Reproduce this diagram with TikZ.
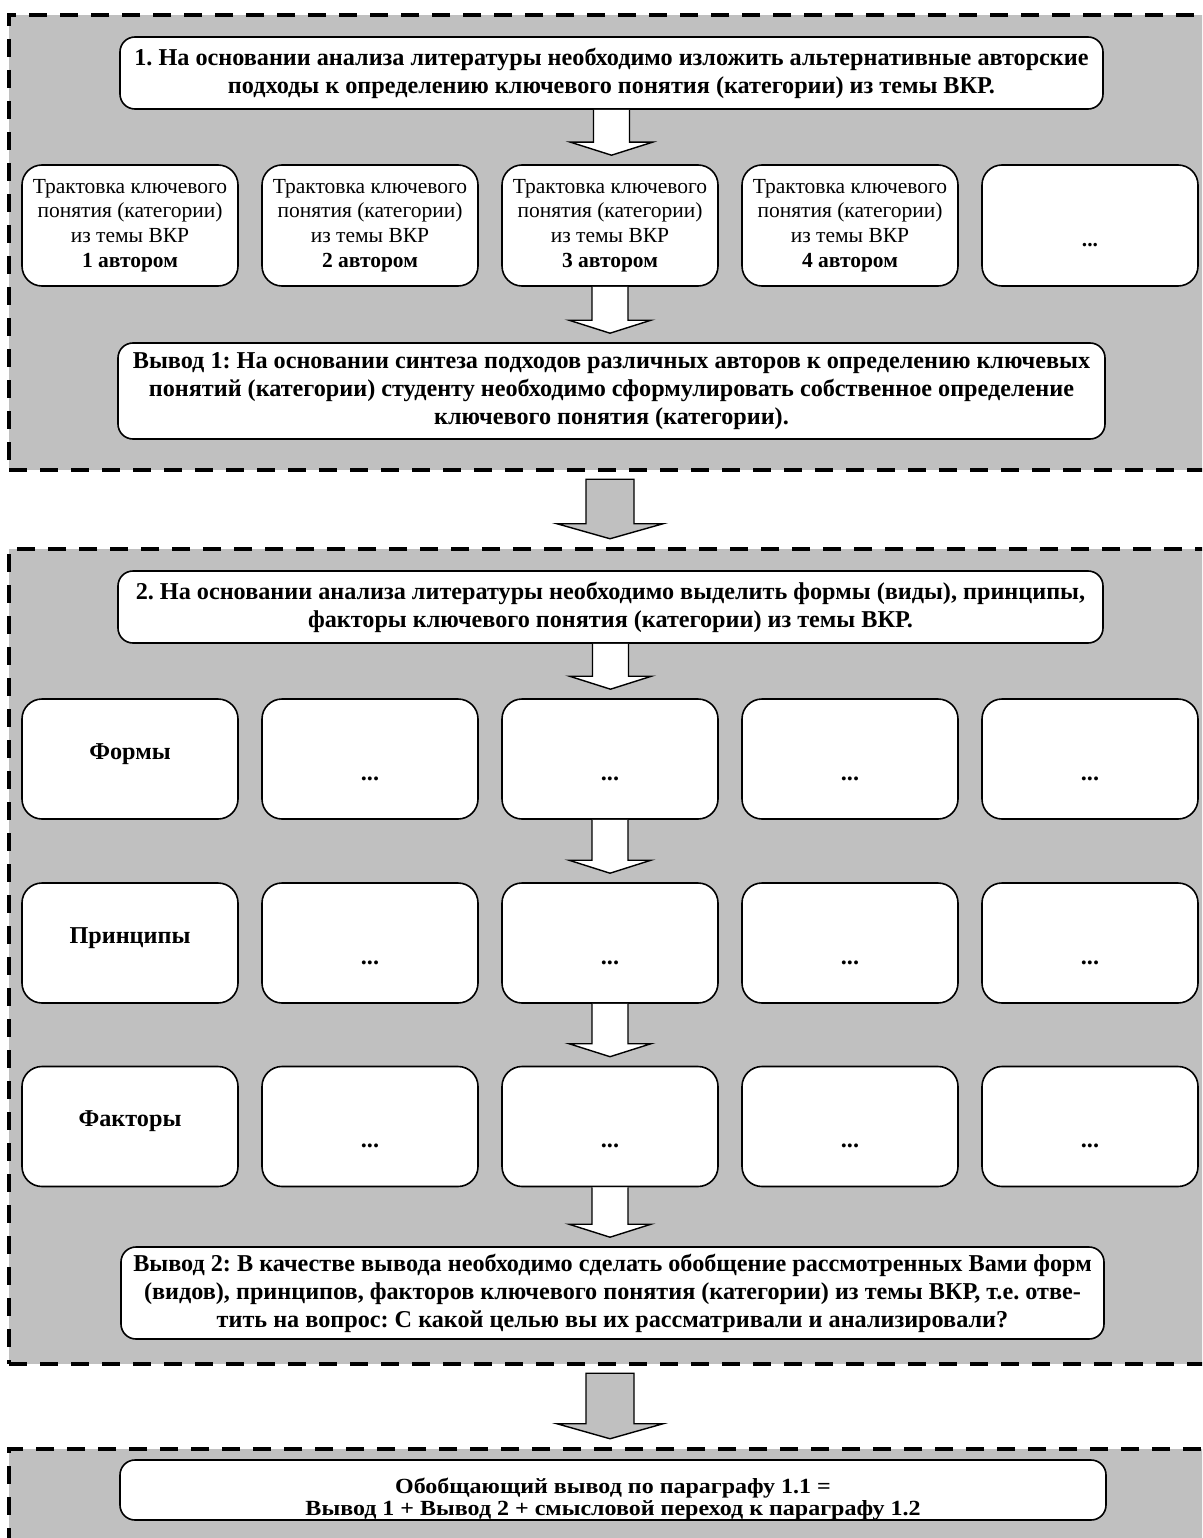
\documentclass[tikz,border=0pt]{standalone}
\usepackage{fontspec}
\setmainfont{Liberation Serif}
\usetikzlibrary{calc}
\frenchspacing
\definecolor{panelgray}{HTML}{C0C0C0}
\tikzset{
  panel/.style={draw, fill=panelgray, line width=4.5pt, dash pattern=on 18pt off 13pt, inner sep=0pt, minimum width=1202pt},
  wbox/.style={draw, fill=white, line width=1.6pt, inner sep=0pt, align=center},
  headbox/.style={wbox, rounded corners=15pt, font=\fontsize{24.2}{28}\selectfont\bfseries},
  authbox/.style={wbox, rounded corners=20pt, minimum width=216pt, minimum height=121pt, font=\fontsize{21.5}{24.7}\selectfont},
  rowbox/.style={wbox, rounded corners=20pt, minimum width=216pt, minimum height=120pt, font=\fontsize{24.2}{28}\selectfont\bfseries},
  warrow/.style={draw, fill=white, line width=1.4pt, line join=miter},
  garrow/.style={draw, fill=panelgray, line width=1.4pt, line join=miter},
}
\newcommand\wArrow[2]{\path[warrow] let \p1=(#1.south), \p2=(#2.north) in
  (\x1-18pt,\y1) -- (\x1-18pt,\y2+22pt) -- (\x1-41pt,\y2+22pt) -- (\x1,\y2+9pt)
  -- (\x1+41pt,\y2+22pt) -- (\x1+18pt,\y2+22pt) -- (\x1+18pt,\y1);}
\newcommand\gArrow[2]{\path[garrow] let \p1=(#1.south), \p2=(#2.north) in
  (\x1-24pt,\y1-7pt) -- (\x1-24pt,\y2+23pt) -- (\x1-53pt,\y2+23pt) -- (\x1,\y2+8pt)
  -- (\x1+53pt,\y2+23pt) -- (\x1+24pt,\y2+23pt) -- (\x1+24pt,\y1-7pt) -- cycle;}
\newcommand\dotsraise[1]{\raisebox{-21pt}[0pt][0pt]{#1}}
\newcommand\rowlabel[1]{\raisebox{0pt}[0pt][0pt]{#1}}
\begin{document}
\begin{tikzpicture}[x=1pt,y=-1pt]
\useasboundingbox (0,0) rectangle (1202,1538);
\clip (0,0) rectangle (1202,1538);
% panels
\node[panel, minimum height=455pt] (p1) at (610,242.5) {};
\node[panel, minimum height=815pt] (p2) at (610,956.5) {};
\node[panel, minimum height=121pt] (p3) at (610,1509.5) {};
% panel 1
\node[headbox, minimum width=983pt, minimum height=72pt] (h1) at (611.5,73)
  {1. На основании анализа литературы необходимо изложить альтернативные авторские\\
   подходы к определению ключевого понятия (категории) из темы ВКР.};
\node[authbox] (a1) at (130,225.5) {Трактовка ключевого\\понятия (категории)\\из темы ВКР\\\textbf{1 автором}};
\node[authbox] (a2) at (370,225.5) {Трактовка ключевого\\понятия (категории)\\из темы ВКР\\\textbf{2 автором}};
\node[authbox] (a3) at (610,225.5) {Трактовка ключевого\\понятия (категории)\\из темы ВКР\\\textbf{3 автором}};
\node[authbox] (a4) at (850,225.5) {Трактовка ключевого\\понятия (категории)\\из темы ВКР\\\textbf{4 автором}};
\node[authbox] (a5) at (1090,225.5) {\dotsraise{\textbf{...}}};
\node[headbox, minimum width=987pt, minimum height=96pt] (v1) at (611.5,391)
  {Вывод 1: На основании синтеза подходов различных авторов к определению ключевых\\
   понятий (категории) студенту необходимо сформулировать собственное определение\\
   ключевого понятия (категории).};
\wArrow{h1}{a3}
\wArrow{a3}{v1}
% panel 2
\node[headbox, minimum width=985pt, minimum height=72pt] (h2) at (610.5,607)
  {2. На основании анализа литературы необходимо выделить формы (виды), принципы,\\
   факторы ключевого понятия (категории) из темы ВКР.};
\node[rowbox] (f1) at (130,759) {\rowlabel{Формы}};
\node[rowbox] (f2) at (370,759) {\dotsraise{...}};
\node[rowbox] (f3) at (610,759) {\dotsraise{...}};
\node[rowbox] (f4) at (850,759) {\dotsraise{...}};
\node[rowbox] (f5) at (1090,759) {\dotsraise{...}};
\node[rowbox] (q1) at (130,943) {\rowlabel{Принципы}};
\node[rowbox] (q2) at (370,943) {\dotsraise{...}};
\node[rowbox] (q3) at (610,943) {\dotsraise{...}};
\node[rowbox] (q4) at (850,943) {\dotsraise{...}};
\node[rowbox] (q5) at (1090,943) {\dotsraise{...}};
\node[rowbox] (r1) at (130,1126.5) {\rowlabel{Факторы}};
\node[rowbox] (r2) at (370,1126.5) {\dotsraise{...}};
\node[rowbox] (r3) at (610,1126.5) {\dotsraise{...}};
\node[rowbox] (r4) at (850,1126.5) {\dotsraise{...}};
\node[rowbox] (r5) at (1090,1126.5) {\dotsraise{...}};
\node[headbox, minimum width=983pt, minimum height=92pt] (v2) at (612.5,1293)
  {Вывод 2: В качестве вывода необходимо сделать обобщение рассмотренных Вами форм\\
   (видов), принципов, факторов ключевого понятия (категории) из темы ВКР, т.е. отве-\\
   тить на вопрос: С какой целью вы их рассматривали и анализировали?};
\wArrow{h2}{f3}
\wArrow{f3}{q3}
\wArrow{q3}{r3}
\wArrow{r3}{v2}
% panel 3
\node[headbox, minimum width=986pt, minimum height=60pt, font=\fontsize{24}{24.5}\selectfont\bfseries] (s) at (613,1490)
  {\raisebox{-16pt}[0pt][0pt]{\scalebox{1}[0.9]{\begin{tabular}{@{}c@{}}Обобщающий вывод по параграфу 1.1 =\\
   Вывод 1 + Вывод 2 + смысловой переход к параграфу 1.2\end{tabular}}}};
% arrows between panels
\gArrow{p1}{p2}
\gArrow{p2}{p3}
\end{tikzpicture}
\end{document}
